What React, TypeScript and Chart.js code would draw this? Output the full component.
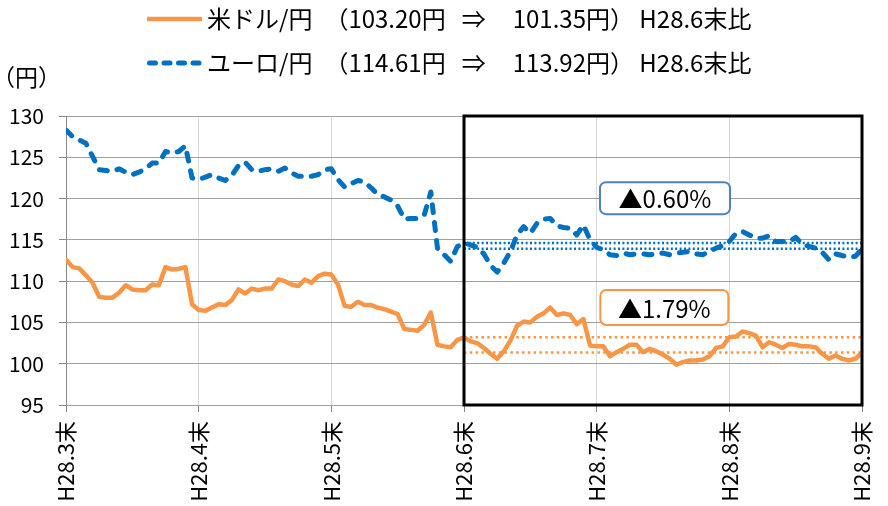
import { useEffect, useRef } from 'react';
import { Chart, registerables } from 'chart.js';

Chart.register(...registerables);

const monthLabels = ['H28.3末', 'H28.4末', 'H28.5末', 'H28.6末', 'H28.7末', 'H28.8末', 'H28.9末'];
const daysPerMonth = 20;

const usdJpy = [
  112.6, 111.7, 111.55, 110.7, 109.8, 108.1, 108.0, 108.0, 108.6, 109.5,
  109.0, 108.9, 108.9, 109.6, 109.5, 111.7, 111.4, 111.5, 111.7, 107.2,
  106.5, 106.4, 106.8, 107.2, 107.1, 107.7, 109.0, 108.5, 109.1, 108.9,
  109.1, 109.1, 110.2, 110.0, 109.6, 109.4, 110.2, 109.8, 110.6, 110.9,
  110.8, 109.6, 107.0, 106.9, 107.5, 107.1, 107.1, 106.8, 106.6, 106.3,
  106.0, 104.2, 104.1, 104.0, 104.7, 106.2, 102.3, 102.1, 102.0, 102.9,
  103.2, 102.7, 102.5, 101.9, 101.2, 100.6, 101.5, 102.8, 104.6, 105.1,
  105.0, 105.7, 106.1, 106.8, 105.9, 106.1, 105.9, 104.8, 105.4, 102.2,
  102.1, 102.1, 100.9, 101.4, 101.8, 102.3, 102.3, 101.4, 101.8, 101.5,
  101.1, 100.6, 99.9, 100.2, 100.4, 100.4, 100.5, 100.9, 101.9, 102.1,
  103.2, 103.3, 103.9, 103.7, 103.4, 102.0, 102.6, 102.3, 101.9, 102.4,
  102.3, 102.1, 102.1, 102.0, 101.2, 100.6, 101.0, 100.6, 100.4, 100.6,
  101.35,
];

const eurJpy = [
  128.3, 127.5, 127.1, 126.7, 125.1, 123.5, 123.4, 123.3, 123.6, 123.2,
  122.9, 123.2, 123.6, 124.3, 124.3, 125.7, 125.5, 125.7, 126.4, 122.5,
  122.3, 122.6, 122.9, 122.5, 122.2, 122.8, 124.0, 124.4, 123.5, 123.3,
  123.5, 123.6, 123.3, 123.7, 123.1, 122.7, 122.7, 122.7, 122.9, 123.5,
  123.6, 122.3, 121.4, 121.8, 122.2, 122.0, 121.3, 120.5, 120.2, 119.8,
  119.1, 117.5, 117.6, 117.6, 118.0, 120.8, 114.0, 113.2, 112.4, 114.2,
  114.6, 114.4, 114.1, 113.3, 111.9, 111.1, 112.2, 113.6, 115.6, 116.6,
  115.8, 117.0, 117.5, 117.6, 116.7, 116.5, 116.4, 115.6, 116.8, 115.0,
  114.1, 113.8, 113.2, 113.1, 113.4, 113.2, 113.3, 113.3, 113.2, 113.3,
  113.4, 113.2, 113.4, 113.5, 113.6, 113.3, 113.2, 113.6, 114.0, 114.3,
  114.8, 115.8, 116.0, 115.6, 115.2, 115.2, 115.5, 114.8, 114.8, 114.8,
  115.3, 114.5, 114.2, 114.0, 113.5, 112.6, 113.3, 113.1, 112.9, 113.0,
  113.9,
];

// H28.6末 and latest values
const usdRef = [103.20, 101.35];
const eurRef = [114.61, 113.92];
const changeLabels = ['▲0.60%', '▲1.79%'];
const legendTexts = [
  '米ドル/円　（103.20円   ⇒     101.35円） H28.6末比',
  'ユーロ/円　（114.61円   ⇒     113.92円） H28.6末比',
];
const unitLabel = '（円）';
const yMin = 95;
const yMax = 130;
const yStep = 5;

const ORANGE = '#F79646';
const BLUE = '#0070C0';
const FONT = "'Noto Sans CJK JP', 'Noto Sans', sans-serif";

const refStart = 3 * daysPerMonth;
const refEnd = 6 * daysPerMonth;

// annotation placement (index / value of box centre)
const boxPlacement = [
  { x: 90.3, y: 120.05, w: 130, h: 32, border: '#4F81BD' },
  { x: 90.2, y: 106.8, w: 128, h: 35, border: ORANGE },
];

const toPoints = (arr: number[]) => arr.map((v, i) => ({ x: i, y: v }));
const refLine = (v: number) => [
  { x: refStart, y: v },
  { x: refEnd, y: v },
];

const overlayPlugin = {
  id: 'overlay',
  afterDatasetsDraw(chart: any) {
    const { ctx, scales } = chart;
    const xs = scales.x;
    const ys = scales.y;
    ctx.save();
    const l = xs.getPixelForValue(refStart);
    const r = xs.getPixelForValue(refEnd);
    const t = ys.getPixelForValue(yMax);
    const b = ys.getPixelForValue(yMin);
    ctx.strokeStyle = '#000';
    ctx.lineWidth = 3;
    ctx.strokeRect(l, t, r - l, b - t);
    boxPlacement.forEach((bp, i) => {
      const cx = xs.getPixelForValue(bp.x);
      const cy = ys.getPixelForValue(bp.y);
      const x0 = cx - bp.w / 2;
      const y0 = cy - bp.h / 2;
      ctx.beginPath();
      ctx.roundRect(x0, y0, bp.w, bp.h, 6);
      ctx.fillStyle = '#fff';
      ctx.fill();
      ctx.lineWidth = 2;
      ctx.strokeStyle = bp.border;
      ctx.stroke();
      ctx.fillStyle = '#000';
      ctx.font = `24px ${FONT}`;
      ctx.textAlign = 'center';
      ctx.textBaseline = 'middle';
      ctx.fillText(changeLabels[i], cx, cy + 1);
    });
    ctx.restore();
  },
  afterDraw(chart: any) {
    const { ctx } = chart;
    ctx.save();
    const items = [
      { text: legendTexts[0], color: ORANGE, dash: [] as number[], width: 4.5, y: 19 },
      { text: legendTexts[1], color: BLUE, dash: [6, 8.5], width: 5, y: 63 },
    ];
    items.forEach((it) => {
      ctx.beginPath();
      ctx.setLineDash(it.dash);
      ctx.lineCap = it.dash.length ? 'round' : 'butt';
      ctx.strokeStyle = it.color;
      ctx.lineWidth = it.width;
      const x0 = it.dash.length ? 149.5 : 147;
      const x1 = it.dash.length ? 199.5 : 202;
      ctx.moveTo(x0, it.y);
      ctx.lineTo(x1, it.y);
      ctx.stroke();
      ctx.setLineDash([]);
      ctx.fillStyle = '#000';
      ctx.font = `24px ${FONT}`;
      ctx.textAlign = 'left';
      ctx.textBaseline = 'middle';
      ctx.fillText(it.text, 207, it.y);
    });
    ctx.font = `23px ${FONT}`;
    ctx.textAlign = 'left';
    ctx.textBaseline = 'middle';
    ctx.fillStyle = '#000';
    ctx.fillText(unitLabel, -8, 77);
    ctx.restore();
  },
};

export default function App() {
  const ref = useRef<HTMLCanvasElement | null>(null);
  useEffect(() => {
    if (!ref.current) return;
    const chart = new Chart(ref.current, {
      type: 'line',
      data: {
        datasets: [
          {
            label: '米ドル/円',
            data: toPoints(usdJpy),
            borderColor: ORANGE,
            borderWidth: 4.5,
            pointRadius: 0,
            borderJoinStyle: 'round',
            borderCapStyle: 'round',
            order: 1,
          },
          {
            label: 'ユーロ/円',
            data: toPoints(eurJpy),
            borderColor: BLUE,
            borderWidth: 5,
            borderDash: [8, 10],
            borderCapStyle: 'round',
            borderJoinStyle: 'round',
            pointRadius: 0,
            order: 2,
          },
          ...usdRef.map((v) => ({
            label: 'usd-ref',
            data: refLine(v),
            borderColor: ORANGE,
            borderWidth: 2.5,
            borderDash: [2.5, 3.3],
            pointRadius: 0,
            order: 5,
          })),
          ...eurRef.map((v) => ({
            label: 'eur-ref',
            data: refLine(v),
            borderColor: BLUE,
            borderWidth: 2.5,
            borderDash: [2, 2.4],
            pointRadius: 0,
            order: 6,
          })),
        ],
      },
      options: {
        responsive: false,
        animation: false,
        layout: { padding: { top: 116, right: 26, left: 0, bottom: 0 } },
        plugins: {
          legend: { display: false },
          tooltip: { enabled: false },
        },
        scales: {
          x: {
            type: 'linear',
            min: 0,
            max: daysPerMonth * (monthLabels.length - 1),
            afterFit: (s: any) => {
              s.height = 101;
              s.paddingLeft = 0;
              s.paddingRight = 0;
            },
            ticks: {
              stepSize: daysPerMonth,
              autoSkip: false,
              minRotation: 90,
              maxRotation: 90,
              padding: 9,
              color: '#000',
              font: { size: 22, family: FONT },
              callback: (v: any) => monthLabels[Math.round(Number(v) / daysPerMonth)] ?? '',
            },
            grid: {
              color: (c: any) => (c.index === 0 ? '#868686' : '#D9D9D9'),
              tickColor: '#868686',
              tickLength: 7,
              lineWidth: 1,
            },
            border: { display: false },
          },
          y: {
            min: yMin,
            max: yMax,
            afterFit: (s: any) => {
              s.width = 66;
              s.paddingTop = 0;
              s.paddingBottom = 0;
            },
            ticks: {
              stepSize: yStep,
              padding: 15,
              color: '#000',
              font: { size: 21, family: FONT },
            },
            grid: {
              color: '#A0A0A0',
              tickColor: '#868686',
              tickLength: 7,
            },
            border: { display: true, color: '#868686' },
          },
        },
      },
      plugins: [overlayPlugin],
    });
    return () => chart.destroy();
  }, []);
  return (
    <div style={{ position: 'absolute', left: 0, top: 0, width: 888, height: 506, background: '#fff' }}>
      <canvas ref={ref} width={888} height={506} style={{ display: 'block' }} />
    </div>
  );
}
